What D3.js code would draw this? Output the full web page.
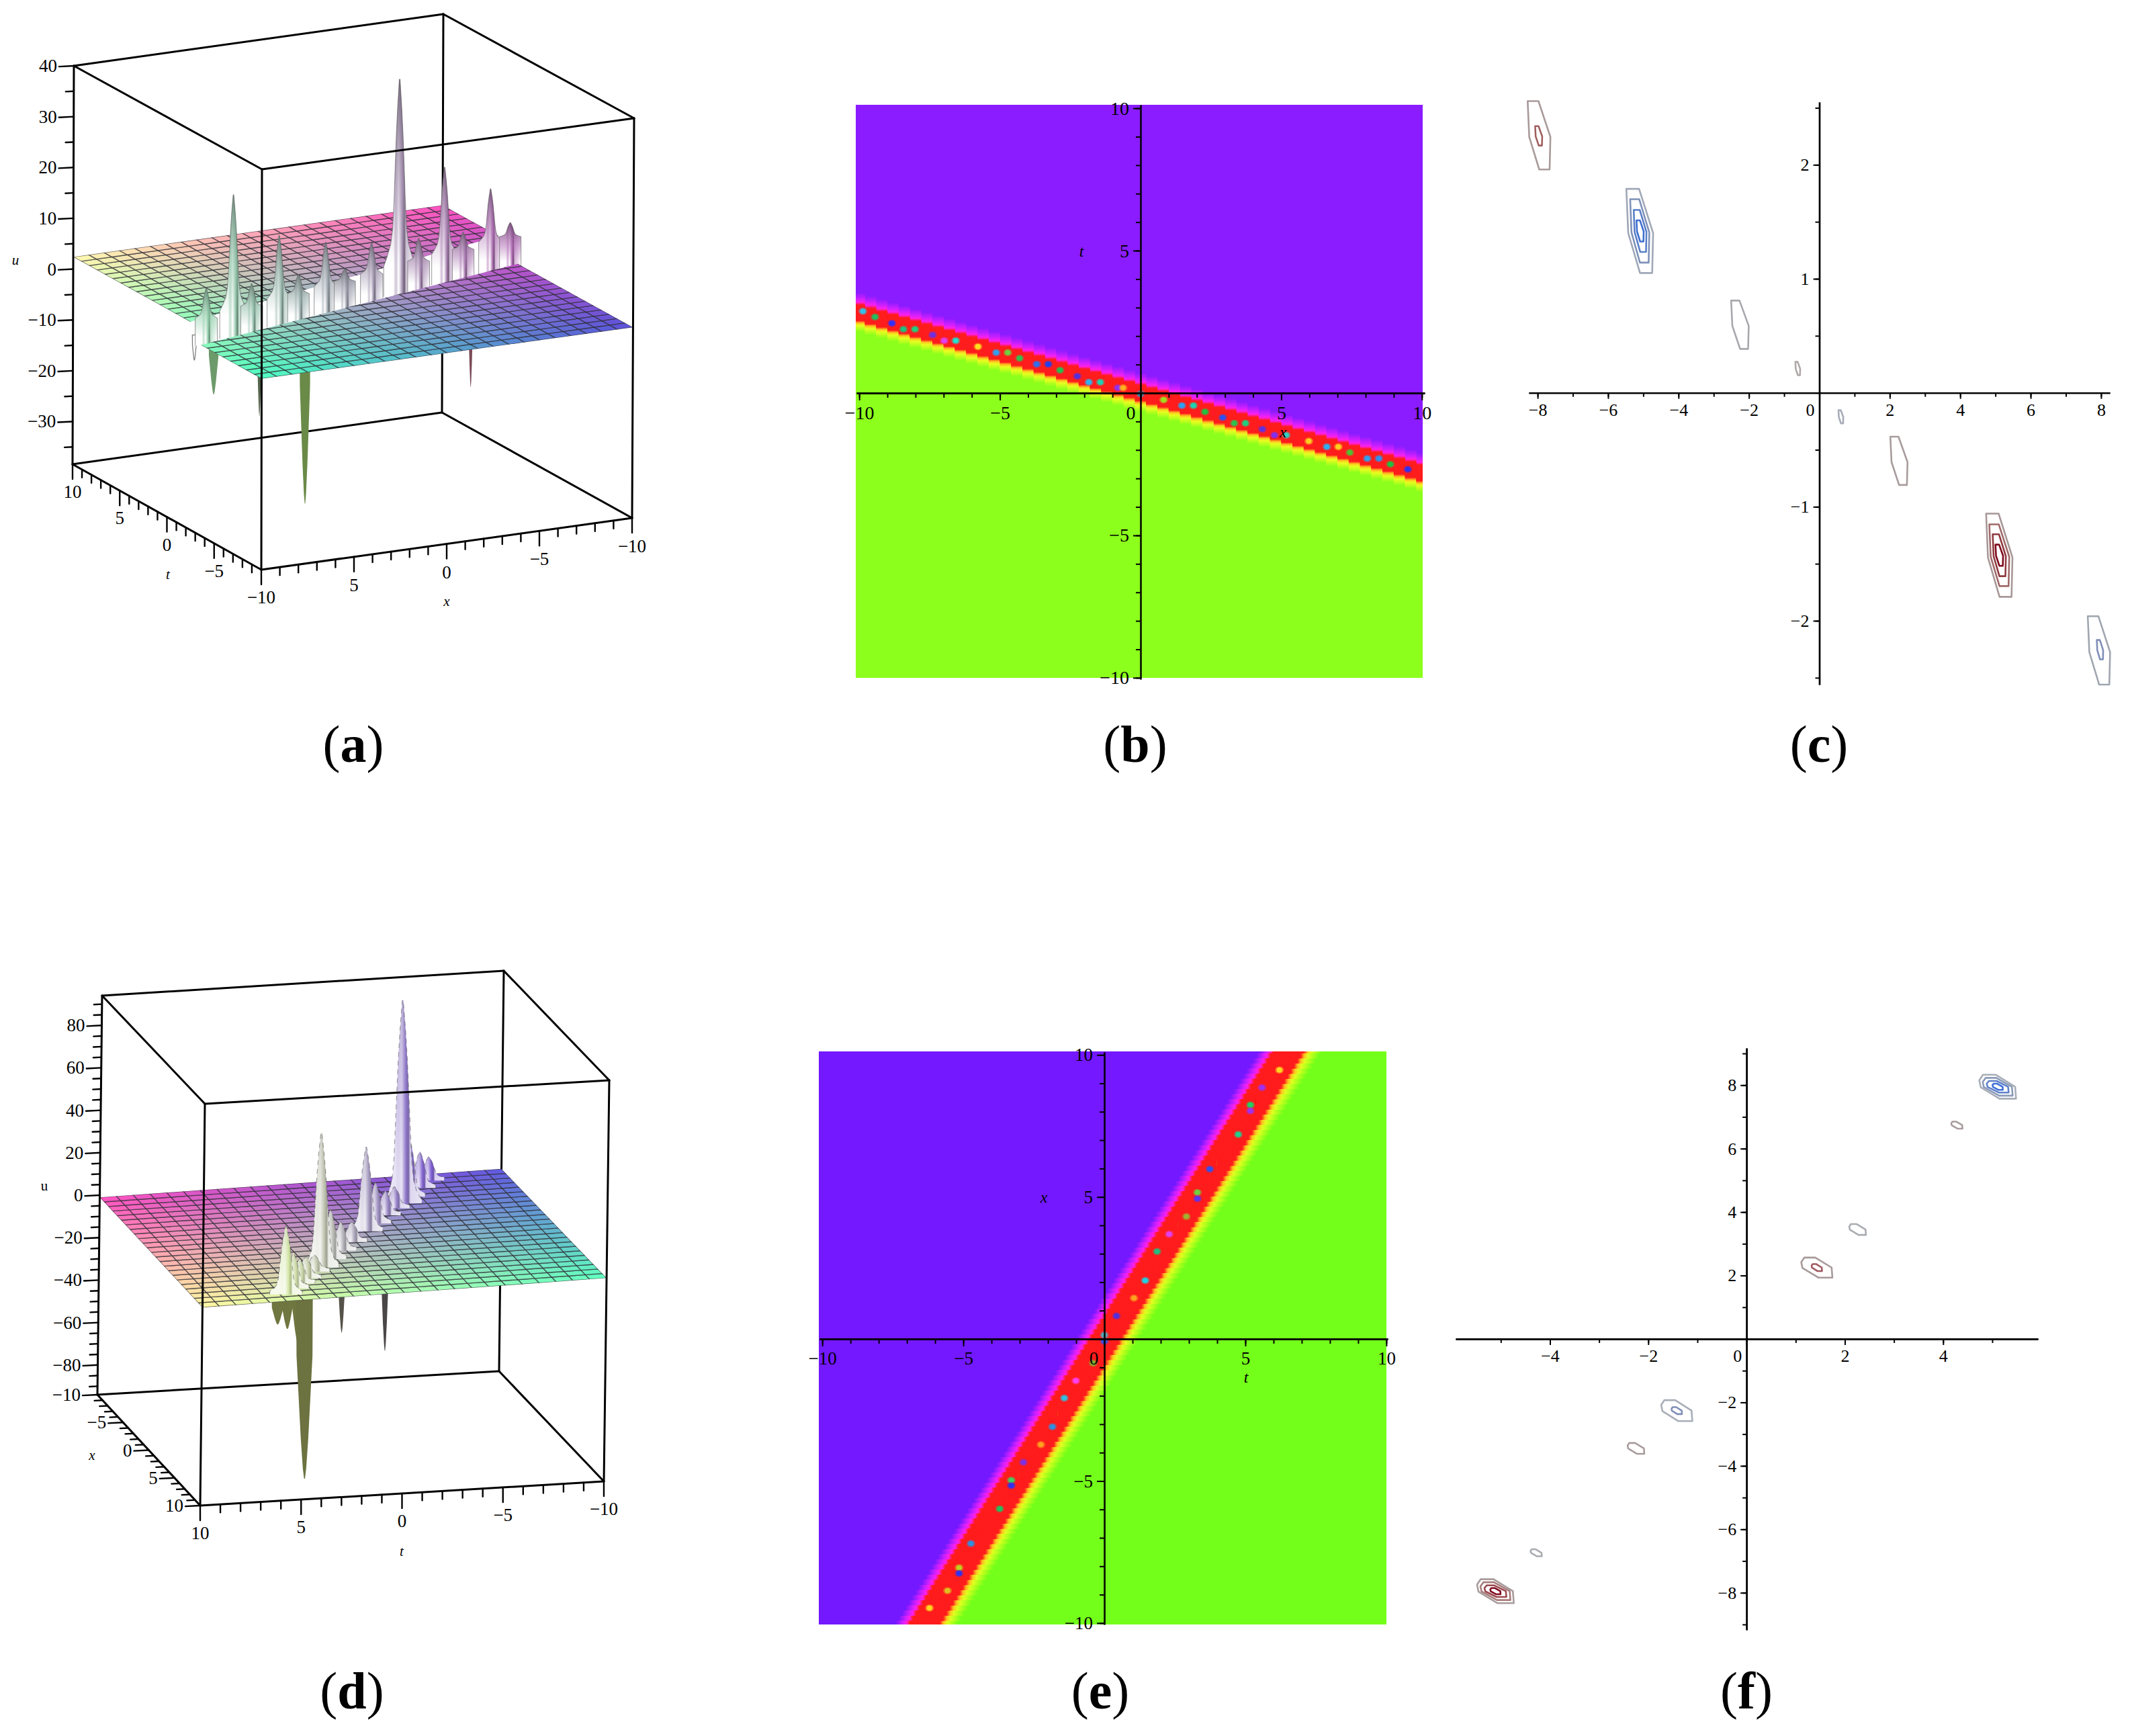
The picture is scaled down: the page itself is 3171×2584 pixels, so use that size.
<!DOCTYPE html>
<html>
<head>
<meta charset="utf-8">
<script src="https://cdn.jsdelivr.net/npm/d3@7"></script>
<style>
    body { margin: 0; background: #fff; }
    text { font-family: "Liberation Serif", serif; fill: #000; }
</style>
</head>
<body>
<svg id="drawing_region"></svg>
<script>
// --- panel (a): u(x,t) surface, peaks along the soliton line
const spikeAx = [9.17, 7.48, 6.33, 4.61, 3.4, 1.7, 0.5, -1.18, -2.9, -4.13, -5.74, -6.92, -8.63, -9.87];
const spikeAt = [-2.48, -2.02, -1.71, -1.24, -0.92, -0.46, -0.14, 0.32, 0.78, 1.12, 1.55, 1.87, 2.33, 2.66];
const spikeAu = [8.6, 25.6, 7.3, 15.4, 6.8, 11.8, 5.7, 9.4, 40.2, 8, 20.7, 7, 14.2, 6.6];
const downAx = [9.9, 8.69, 5.82, 2.95, -7.43];
const downAt = [-2.67, -2.35, -1.57, -0.8, 2.01];
const downAu = [-4.9, -12.6, -19.1, -38.5, -23.8];
const farEdgeAt = [-2.42, 4.1];   // t of the upper sheet's edge at x = 10, x = -10
const nearEdgeAt = [-3.56, 2.1];  // t of the lower sheet's edge at x = 10, x = -10
const levelsA = [2.4, -1];        // u of upper sheet, lower sheet

// --- panel (d)
const spikeDx = [8.49, 7.53, 6.72, 5.9, 4.84, 4.14, 2.85, 1.5, 0.11, -1.6, -2.85, -4.14, -5.27, -6.08, -7.1, -8.5, -9.68];
const spikeDt = [5.52, 4.89, 4.37, 3.84, 3.15, 2.69, 1.85, 0.98, 0.07, -1.04, -1.85, -2.69, -3.43, -3.95, -4.62, -5.53, -6.29];
const spikeDu = [30.4, 15, 9.8, 8.5, 6.3, 61.5, 21.5, 11.9, 7.9, 37.9, 17.5, 9.8, 8.5, 93.7, 26, 15.4, 9.6];
const downDx = [9.4, 8.17, 6.83, 5.75, 1.24, -4.3];
const downDt = [6.11, 5.31, 4.44, 3.74, 0.81, -2.8];
const downDu = [-13, -18.7, -29, -96, -40.8, -65.6];
const levelsD = [-1.3, 1.3, -1, 1]; // u of the sheet at its four corners

// --- panel (b): density plot, dots along the band
const dotsBx = [-9.87, -9.44, -8.84, -8.43, -8.02, -7.39, -6.98, -6.57, -5.78, -5.13, -4.72, -4.3, -3.69, -3.28, -2.86, -2.25, -1.84, -1.43, -0.81, -0.62, 0, 0.82, 1.47, 1.88, 2.29, 2.92, 3.33, 3.73, 4.33, 4.76, 5.18, 5.98, 6.62, 7.03, 7.44, 8.06, 8.47, 8.88, 9.5];
const dotsBt = [2.87, 2.67, 2.45, 2.24, 2.24, 2.04, 1.84, 1.84, 1.63, 1.42, 1.42, 1.22, 1.01, 1.01, 0.8, 0.59, 0.38, 0.38, 0.18, 0.18, -0.03, -0.24, -0.44, -0.44, -0.66, -0.86, -1.06, -1.06, -1.27, -1.48, -1.48, -1.69, -1.89, -1.89, -2.09, -2.3, -2.3, -2.5, -2.68];
const dotsBc = ["#35c0e8", "#20c060", "#3030ff", "#20c080", "#20d080", "#7030e0", "#e040f0", "#20e0d0", "#ffe020", "#30a0f0", "#70d040", "#30c050", "#3070f0", "#2040f0", "#20c050", "#5030e0", "#30b0f0", "#20d0b0", "#9030f0", "#ffb020", "#3090c0", "#a0e020", "#30a0f0", "#20d0b0", "#20c040", "#3050f0", "#30c050", "#20d080", "#6030e0", "#8030f0", "#30d0c0", "#ffd020", "#30b0f0", "#ffd020", "#50c030", "#30a0f0", "#3090f0", "#20c040", "#3030f0"];
const bandB = { centre: -0.05, slope: -0.281 };
const bandBoffsets = [-0.68, -0.46, -0.37, -0.29, 0.29, 0.38, 0.5, 0.72];

// --- panel (e)
const dotsEt = [6.21, 5.59, 5.18, 5.18, 4.75, 3.74, 3.3, 3.3, 2.91, 2.3, 1.87, 1.45, 1.05, 0.43, 0, 0, -0.4, -1.01, -1.42, -1.84, -2.25, -2.87, -3.3, -3.3, -3.71, -4.73, -5.15, -5.15, -5.56, -6.2];
const dotsEx = [9.47, 8.85, 8.24, 8.03, 7.2, 5.98, 5.16, 4.94, 4.31, 3.69, 3.08, 2.06, 1.44, 0.81, 0.14, -0.08, -0.85, -1.47, -2.08, -3.09, -3.72, -4.34, -4.97, -5.16, -5.98, -7.2, -8.05, -8.25, -8.86, -9.47];
const dotsEc = ["#ffd820", "#a030f0", "#20d060", "#a030f0", "#20d090", "#3050f0", "#70d040", "#6030f0", "#a0b030", "#e040f0", "#20c080", "#20d0e0", "#ffa020", "#5030e0", "#50b0c0", "#3050f0", "#80b030", "#ff40f0", "#30c0e0", "#3090e0", "#ffa020", "#8030e0", "#40d060", "#3030f0", "#20c060", "#3090e0", "#c0d020", "#3030f0", "#e0c020", "#ffd820"];
const bandE = { centre: -0.02, slope: 0.64 };
const bandEoffsets = [-1.05, -0.8, -0.66, -0.54, 0.56, 0.68, 0.82, 1.2];

// --- contours (c): centre, half extent, in plot units
const contourCx = [-7.96, -7.97, -5.10, -5.10, -5.09, -5.09, -2.255, -0.612, 0.612, 2.26, 5.11, 5.11, 5.11, 5.11, 7.94, 7.97];
const contourCy = [2.259, 2.254, 1.42, 1.42, 1.42, 1.42, 0.597, 0.213, -0.21, -0.597, -1.425, -1.425, -1.425, -1.425, -2.26, -2.254];
const contourCrx = [0.323, 0.10, 0.38, 0.272, 0.181, 0.102, 0.25, 0.068, 0.068, 0.244, 0.374, 0.283, 0.187, 0.108, 0.317, 0.09];
const contourCry = [0.30, 0.085, 0.369, 0.278, 0.184, 0.093, 0.212, 0.058, 0.058, 0.212, 0.365, 0.271, 0.184, 0.093, 0.30, 0.085];
const contourCcol = ["#a99a9a", "#a06060", "#a0a8b8", "#7f92b8", "#5a7fc8", "#3f6fd0", "#a8a8ac", "#b0a8a8", "#a8acb8", "#a89c9c", "#a89898", "#a06a6a", "#8f3a40", "#800a1e", "#a0a6b0", "#7f8fb8"];
const hexC = [[-1, 1], [-0.05, 1], [1, -0.05], [0.93, -1], [0.02, -1], [-0.86, -0.05]];

// --- contours (f)
const contourFx = [5.11, 5.11, 5.11, 5.11, 4.28, 2.26, 1.43, 1.43, -1.42, -1.42, -2.25, -4.28, -5.11, -5.11, -5.11, -5.11];
const contourFy = [7.95, 7.95, 7.95, 7.95, 6.74, 3.45, 2.25, 2.25, -2.26, -2.26, -3.45, -6.74, -7.95, -7.95, -7.95, -7.95];
const contourFrx = [0.374, 0.305, 0.223, 0.105, 0.114, 0.17, 0.317, 0.106, 0.317, 0.106, 0.17, 0.114, 0.374, 0.305, 0.223, 0.105];
const contourFry = [0.377, 0.28, 0.182, 0.097, 0.11, 0.17, 0.316, 0.11, 0.33, 0.11, 0.17, 0.11, 0.377, 0.28, 0.182, 0.097];
const contourFcol = ["#a8aeb8", "#8a9ab8", "#5f80c8", "#3f6fd8", "#a89c9c", "#a8acb0", "#a89a9a", "#a05a60", "#a8aeb8", "#7f8fb8", "#a89c9c", "#a8acb0", "#a89c9c", "#a87c7c", "#9a4a50", "#800a1e"];
const hexF = [[-1, 0.54], [-0.8, 1], [-0.1, 1], [0.95, 0], [1, -1], [0.1, -1], [-0.92, -0.04]];

const panelNames = ["a", "b", "c", "d", "e", "f"];
const panelNameX = [526, 1690, 2708, 524, 1638, 2600];
const panelNameY = [1134, 1134, 1134, 2543, 2543, 2543];

const FONT = '"Liberation Serif", serif';

const svg = d3.select('#drawing_region').attr('width', 3171).attr('height', 2584);
const defs = svg.append('defs');
svg.append('rect').attr('width', 3171).attr('height', 2584).attr('fill', '#fff');

let uid = 0;

// trilinear map from plot units onto the drawn box
function makeProject(box) {
    const sp = d3.scaleLinear().domain(box.pDomain).range([0, 1]);
    const sq = d3.scaleLinear().domain(box.qDomain).range([0, 1]);
    const su = d3.scaleLinear().domain(box.uDomain).range([0, 1]);
    const plane = (c, a, b) => [0, 1].map(i =>
        (1 - b) * ((1 - a) * c[0][i] + a * c[1][i]) + b * ((1 - a) * c[2][i] + a * c[3][i]));
    return (p, q, u) => {
        const a = sp(p), b = sq(q), h = su(u);
        const lo = plane(box.bottom, a, b), hi = plane(box.top, a, b);
        return [lo[0] + (hi[0] - lo[0]) * h, lo[1] + (hi[1] - lo[1]) * h];
    };
}

function drawSurfacePanel(cfg) {
    const g = svg.append('g');
    const box = cfg.box;
    const project = makeProject(box);
    const pt = cfg.swap ? (x, t, u) => project(t, x, u) : (x, t, u) => project(x, t, u);
    const sp = d3.scaleLinear().domain(box.pDomain).range([0, 1]);
    const sq = d3.scaleLinear().domain(box.qDomain).range([0, 1]);
    const line = d3.line();
    const edge = (g2, a, b, w) => g2.append('path').attr('d', line([a, b]))
        .attr('stroke', '#000').attr('stroke-width', w || 3).attr('fill', 'none').attr('stroke-linecap', 'round');

    const [F0, R0, L0, B0] = box.bottom;
    const [F1, R1, L1, B1] = box.top;

    // back of the box
    edge(g, L1, B1); edge(g, B1, R1); edge(g, B1, B0); edge(g, L0, B0); edge(g, B0, R0);

    const colourAt = (p, q) => {
        const a = sp(p), b = sq(q);
        return d3.interpolateRgb(
            d3.interpolateRgb(cfg.colours[0], cfg.colours[1])(a),
            d3.interpolateRgb(cfg.colours[2], cfg.colours[3])(a))(b);
    };
    const colourXT = cfg.swap ? (x, t) => colourAt(t, x) : (x, t) => colourAt(x, t);

    const gridP = d3.scaleLinear().domain([0, 24]).range(box.pDomain);
    const gridQ = d3.scaleLinear().domain([0, 24]).range(box.qDomain);
    const cells = d3.cross(d3.range(24), d3.range(24));

    function sheet(level, clipPoints) {
        const id = 'clip' + (uid++);
        defs.append('clipPath').attr('id', id).append('path').attr('d', line(clipPoints) + 'Z');
        const s = g.append('g').attr('clip-path', `url(#${id})`);
        const lev = (a, b) => (1 - b) * ((1 - a) * level[0] + a * level[1]) + b * ((1 - a) * level[2] + a * level[3]);
        const at = (i, j) => project(gridP(i), gridQ(j), lev(i / 24, j / 24));
        s.selectAll('path').data(cells).join('path')
            .attr('d', ([i, j]) => line([at(i, j), at(i + 1, j), at(i + 1, j + 1), at(i, j + 1)]) + 'Z')
            .attr('fill', ([i, j]) => colourAt(gridP(i + 0.5), gridQ(j + 0.5)))
            .attr('stroke', '#2c2c34').attr('stroke-opacity', 0.68).attr('stroke-width', 1.4);
    }

    // spikes hanging under the sheet
    const downProfile = [[0, 1], [0.4, 0.95], [0.6, 0.7], [0.8, 0.45], [0.95, 0.2], [1, 0.05]];
    cfg.down.x.forEach((x, i) => {
        const t = cfg.down.t[i];
        const tip = pt(x, t, cfg.down.u[i]);
        const top = pt(x, t, 0);
        const w = cfg.down.width[i];
        const left = downProfile.map(([f, k]) => [tip[0] - w * k, top[1] + (tip[1] - top[1]) * f]);
        const right = downProfile.map(([f, k]) => [tip[0] + w * k, top[1] + (tip[1] - top[1]) * f]).reverse();
        g.append('path').attr('d', line(left.concat(right)) + 'Z')
            .attr('fill', cfg.down.fill[i])
            .attr('stroke', cfg.down.line[i]).attr('stroke-width', 1.2);
    });

    // the sheet(s)
    cfg.sheets(sheet, pt, g, line);

    // rising spikes
    const order = d3.range(cfg.spike.x.length);
    if (cfg.swap) order.reverse();
    const tallest = d3.max(cfg.spike.u);
    order.forEach(i => {
        const x = cfg.spike.x[i], t = cfg.spike.t[i], u = cfg.spike.u[i];
        const peak = pt(x, t, u);
        const rootY = cfg.rootY(x, t, pt);
        const baseY = cfg.baseY(x, t, pt);
        const k = (cfg.widthBase + (1.4 - cfg.widthBase) * u / tallest) * cfg.widthScale;
        const left = cfg.profile.map(([f, w]) => [peak[0] - w * k, rootY + (peak[1] - rootY) * f]);
        const right = cfg.profile.map(([f, w]) => [peak[0] + w * k, rootY + (peak[1] - rootY) * f]).reverse();
        const w0 = cfg.profile[0][1] * k;
        const outline = [[peak[0] - w0, baseY]].concat(left, right, [[peak[0] + w0, baseY]]);

        const base = colourXT(x, t);
        const tint = d3.interpolateRgb(base, '#999')(cfg.tintGrey);
        const dark = d3.color(tint).darker(cfg.tintDark).formatRgb();
        const pale = d3.interpolateRgb(tint, '#fff')(cfg.tintPale);
        const hId = 'sh' + (uid++), vId = 'sv' + (uid++);
        const hg = defs.append('linearGradient').attr('id', hId);
        [[0, '#fff'], [0.3, '#fff'], [0.38, pale], [0.47, '#fff'], [0.58, tint], [0.65, dark], [0.7, pale], [1, '#fff']].forEach(s =>
            hg.append('stop').attr('offset', s[0]).attr('stop-color', s[1] === '#fff' && cfg.wallColour ? d3.interpolateRgb(tint, '#fff')(cfg.wallColour) : s[1]));
        const vg = defs.append('linearGradient').attr('id', vId).attr('x1', 0).attr('x2', 0).attr('y1', 0).attr('y2', 1);
        vg.append('stop').attr('offset', 0).attr('stop-color', dark).attr('stop-opacity', cfg.topShade);
        vg.append('stop').attr('offset', 0.5).attr('stop-color', tint).attr('stop-opacity', cfg.topShade * 0.6);
        vg.append('stop').attr('offset', 0.85).attr('stop-color', tint).attr('stop-opacity', 0);

        const d = line(outline);
        const s = g.append('g');
        s.append('path').attr('d', d + 'Z').attr('fill', `url(#${hId})`);
        s.append('path').attr('d', d + 'Z').attr('fill', `url(#${vId})`);
        s.append('path').attr('d', d).attr('fill', 'none')
            .attr('stroke', '#555').attr('stroke-opacity', 0.55).attr('stroke-width', 1.1)
            .attr('stroke-dasharray', cfg.spikeDash);
    });

    if (cfg.frontSheet) cfg.frontSheet(sheet, pt);

    // front of the box
    edge(g, L1, F1); edge(g, F1, R1); edge(g, F1, F0); edge(g, F0, L0); edge(g, F0, R0);
    edge(g, L1, L0); edge(g, R1, R0);

    // tick marks and labels
    const drawTicks = (values, major, at, dir, labelAt, anchor) => {
        values.forEach(v => {
            const a = at(v);
            const isMajor = major.includes(v);
            const len = isMajor ? 22 : 12;
            edge(g, a, [a[0] + dir[0] * len, a[1] + dir[1] * len], 2.4);
            if (isMajor) {
                g.append('text').attr('x', a[0] + labelAt[0]).attr('y', a[1] + labelAt[1])
                    .attr('text-anchor', anchor).attr('font-size', 27)
                    .text(d3.format('d')(v));
            }
        });
    };
    drawTicks(cfg.uTicks, cfg.uMajor, v => pt(cfg.uAt[0], cfg.uAt[1], v), [-1, 0.05], [-25, 9], 'end');
    cfg.axes.forEach(ax => drawTicks(ax.values, ax.major, ax.at(pt), ax.dir, ax.label, ax.anchor));
    cfg.names.forEach(n => g.append('text').attr('x', n.x).attr('y', n.y).attr('font-size', 21)
        .attr('font-style', n.roman ? 'normal' : 'italic').attr('text-anchor', 'middle').text(n.text));
}

const unitTicks = d3.range(-10, 11);
const fiveTicks = [-10, -5, 0, 5, 10];

// panel (a)
const nearEdgeA = x => nearEdgeAt[0] + (nearEdgeAt[1] - nearEdgeAt[0]) * (10 - x) / 20;
const farEdgeA = x => farEdgeAt[0] + (farEdgeAt[1] - farEdgeAt[0]) * (10 - x) / 20;
drawSurfacePanel({
    box: {
        pDomain: [10, -10], qDomain: [-10, 10], uDomain: [-38.4, 40],
        bottom: [[389, 848], [941, 771], [108, 691], [658, 614]],
        top: [[390, 252], [944, 176], [110, 98], [660, 21]]
    },
    swap: false,
    colours: ["#4dffc0", "#5a50d8", "#fff8b0", "#ff50c0"],
    down: {
        x: downAx, t: downAt, u: downAu,
        width: [3, 7.5, 3.5, 8, 4],
        fill: ["#ffffff", "#6d9a6a", "#55644c", "#6a8a48", "#7a4a58"],
        line: ["#777", "none", "none", "none", "none"]
    },
    spike: { x: spikeAx, t: spikeAt, u: spikeAu },
    profile: [[0, 17], [0.05, 13.5], [0.12, 9.5], [0.2, 7.5], [0.35, 6], [0.5, 5], [0.7, 3.6], [0.85, 2.2], [1, 0.4]],
    widthScale: 1, widthBase: 0.85,
    tintGrey: 0.4, tintDark: 1.3, tintPale: 0.45, topShade: 0.9, spikeDash: null,
    rootY: (x, t, pt) => pt(x, farEdgeA(x), levelsA[0])[1],
    baseY: (x, t, pt) => pt(x, nearEdgeA(x), levelsA[1])[1] + 6,
    sheets: (sheet, pt, g, line) => {
        const far = levelsA[0], near = levelsA[1];
        sheet([far, far, far, far], [pt(10, 10, far), pt(-10, 10, far), pt(-10, farEdgeAt[1], far), pt(10, farEdgeAt[0], far)]);
        // white wall between the two sheets
        g.append('path').attr('fill', '#fff').attr('d', line([
            pt(10, farEdgeAt[0], far), pt(-10, farEdgeAt[1], far),
            pt(-10, nearEdgeAt[1], near), pt(10, nearEdgeAt[0], near)]) + 'Z');
    },
    frontSheet: (sheet, pt) => {
        const near = levelsA[1];
        sheet([near, near, near, near], [pt(10, -10, near), pt(-10, -10, near), pt(-10, nearEdgeAt[1], near), pt(10, nearEdgeAt[0], near)]);
    },
    uAt: [10, 10],
    uTicks: d3.range(-35, 41, 5),
    uMajor: [-30, -20, -10, 0, 10, 20, 30, 40],
    axes: [
        { values: unitTicks, major: fiveTicks, at: pt => t => pt(10, t, -38.4), dir: [0, 1], label: [0, 50], anchor: 'middle' },
        { values: unitTicks.filter(v => v < 10), major: [-10, -5, 0, 5], at: pt => x => pt(x, -10, -38.4), dir: [0, 1], label: [0, 51], anchor: 'middle' }
    ],
    names: [
        { text: 'u', x: 23, y: 394 },
        { text: 't', x: 250, y: 862 },
        { text: 'x', x: 665, y: 902 }
    ]
});

// panel (d)
drawSurfacePanel({
    box: {
        pDomain: [10, -10], qDomain: [10, -10], uDomain: [-94, 94],
        bottom: [[298, 2241], [899, 2205], [145, 2076], [743, 2041]],
        top: [[305, 1643], [907, 1608], [152, 1482], [750, 1445]]
    },
    swap: true,
    colours: ["#fffaa0", "#60ffc0", "#ff50c0", "#6058e0"],
    down: {
        x: downDx, t: downDt, u: downDu,
        width: [9, 9, 9, 12.5, 6, 6.5],
        fill: ["#70763f", "#70763f", "#70763f", "#6c7240", "#55524a", "#4a4648"],
        line: ["none", "none", "none", "none", "none", "none"]
    },
    spike: { x: spikeDx, t: spikeDt, u: spikeDu },
    profile: [[0, 15], [0.04, 11], [0.1, 8.5], [0.2, 7], [0.35, 6], [0.5, 5], [0.7, 3.6], [0.85, 2.2], [1, 0.4]],
    widthScale: 1.35, widthBase: 1.1,
    tintGrey: 0.1, tintDark: 0.6, tintPale: 0.7, topShade: 0.35, spikeDash: '7 6', wallColour: 0.8,
    rootY: (x, t, pt) => pt(x, t, 0)[1],
    baseY: (x, t, pt) => pt(x, t, 0)[1] + 5,
    sheets: (sheet, pt) => {
        sheet(levelsD, [pt(10, 10, levelsD[0]), pt(10, -10, levelsD[1]), pt(-10, -10, levelsD[3]), pt(-10, 10, levelsD[2])]);
    },
    uAt: [-10, 10],
    uTicks: d3.range(-90, 91, 5),
    uMajor: [-80, -60, -40, -20, 0, 20, 40, 60, 80],
    axes: [
        { values: unitTicks, major: fiveTicks, at: pt => x => pt(x, 10, -94), dir: [-1, 0.05], label: [-25, 9], anchor: 'end' },
        { values: unitTicks, major: fiveTicks, at: pt => t => pt(10, t, -94), dir: [0, 1], label: [0, 50], anchor: 'middle' }
    ],
    names: [
        { text: 'u', x: 66, y: 1772, roman: true },
        { text: 'x', x: 137, y: 2173 },
        { text: 't', x: 598, y: 2316 }
    ]
});

// density plots: rect background, stacked band layers, dots, axes
function drawAxes(g, xs, ys, cfg) {
    const style = sel => sel.attr('font-family', FONT).attr('font-size', cfg.font);
    const axisX = g.append('g').attr('transform', `translate(0,${ys(0)})`);
    axisX.call(d3.axisBottom(xs).tickValues(cfg.xMinor).tickFormat('').tickSize(cfg.minorLen).tickSizeOuter(0));
    const axisXm = g.append('g').attr('transform', `translate(0,${ys(0)})`);
    axisXm.call(d3.axisBottom(xs).tickValues(cfg.xMajor).tickFormat(d3.format('d')).tickSize(cfg.majorLen).tickPadding(cfg.padX).tickSizeOuter(0));
    style(axisXm);
    axisXm.selectAll('.tick text').filter(d => d === 0).attr('dx', -cfg.zeroDx);
    const axisY = g.append('g').attr('transform', `translate(${xs(0)},0)`);
    axisY.call(d3.axisLeft(ys).tickValues(cfg.yMinor).tickFormat('').tickSize(cfg.minorLen).tickSizeOuter(0));
    const axisYm = g.append('g').attr('transform', `translate(${xs(0)},0)`);
    axisYm.call(d3.axisLeft(ys).tickValues(cfg.yMajor).tickFormat(d3.format('d')).tickSize(cfg.majorLen).tickPadding(cfg.padY).tickSizeOuter(0));
    style(axisYm);
    g.selectAll('path.domain').attr('stroke-width', cfg.axisW || 2.4);
    g.selectAll('.tick line').attr('stroke-width', 2);
    axisY.selectAll('path.domain').attr('stroke-opacity', cfg.yOpacity || 1);
    axisYm.selectAll('path.domain').attr('stroke-opacity', cfg.yOpacity || 1);
}

function drawDensity(cfg) {
    const g = svg.append('g');
    const xs = d3.scaleLinear().domain(cfg.xDomain).range(cfg.xRange);
    const ys = d3.scaleLinear().domain(cfg.yDomain).range(cfg.yRange);
    const id = 'clip' + (uid++);
    const px0 = cfg.plot[0], py0 = cfg.plot[1], pw = cfg.plot[2], ph = cfg.plot[3];
    defs.append('clipPath').attr('id', id).append('rect').attr('x', px0).attr('y', py0).attr('width', pw).attr('height', ph);
    const inner = g.append('g').attr('clip-path', `url(#${id})`);
    inner.append('rect').attr('x', px0).attr('y', py0).attr('width', pw).attr('height', ph).attr('fill', cfg.lowColour);

    const offColour = d3.scaleLinear().domain(cfg.offsets).range(cfg.offsetColours).clamp(true);
    const samples = d3.range(-11, 11.01, cfg.step);
    const centre = s => cfg.band.centre + cfg.band.slope * s;

    // the half plane on the other side of the band
    const halfArea = cfg.vertical
        ? d3.area().curve(d3.curveStepAfter).y(s => ys(s)).x0(s => xs(centre(s))).x1(px0)
        : d3.area().curve(d3.curveStepAfter).x(s => xs(s)).y0(s => ys(centre(s))).y1(py0);
    inner.append('path').attr('d', halfArea(samples)).attr('fill', cfg.highColour);

    const lo = cfg.offsets[0], hi = cfg.offsets[cfg.offsets.length - 1];
    const layer = o => {
        const path = cfg.vertical
            ? d3.area().curve(d3.curveStepAfter).y(s => ys(s)).x0(s => xs(centre(s) + o)).x1(s => xs(centre(s)))
            : d3.area().curve(d3.curveStepAfter).x(s => xs(s)).y0(s => ys(centre(s) + o)).y1(s => ys(centre(s)));
        inner.append('path').attr('d', path(samples)).attr('fill', offColour(o));
    };
    const stepO = 0.03;
    d3.range(lo, 0, stepO).forEach(layer);
    d3.range(hi, 0, -stepO).forEach(layer);

    cfg.dotX.forEach((v, i) => {
        const cx = xs(v), cy = ys(cfg.dotY[i]);
        inner.append('ellipse').attr('cx', cx).attr('cy', cy).attr('rx', 6.5).attr('ry', 5.5)
            .attr('fill', cfg.dotC[i]).attr('opacity', 0.45);
        inner.append('ellipse').attr('cx', cx).attr('cy', cy).attr('rx', 4.2).attr('ry', 3.8)
            .attr('fill', cfg.dotC[i]);
    });

    drawAxes(g, xs, ys, cfg);
    cfg.names.forEach(n => g.append('text').attr('x', n.x).attr('y', n.y).attr('font-size', 24)
        .attr('font-style', 'italic').attr('text-anchor', 'middle').text(n.text));
}

drawDensity({
    xDomain: [-10.1, 10.1], xRange: [1275, 2121],
    yDomain: [10.12, -10.05], yRange: [156, 1011],
    plot: [1274, 156, 844, 853],
    band: bandB, vertical: false, step: 0.4,
    offsets: bandBoffsets,
    offsetColours: ["#8cff1c", "#e8ff20", "#ffc020", "#ff1c1c", "#ff1c1c", "#ff20e8", "#d020ff", "#8b1cff"],
    lowColour: "#8cff1c", highColour: "#8b1cff",
    dotX: dotsBx, dotY: dotsBt, dotC: dotsBc,
    xMinor: unitTicks, xMajor: fiveTicks, yMinor: unitTicks, yMajor: [-10, -5, 5, 10],
    minorLen: 7, majorLen: 11, padX: 8, padY: 6, font: 28, zeroDx: 15, axisW: 2.6, yOpacity: 0.7,
    names: [{ text: 't', x: 1610, y: 382 }, { text: 'x', x: 1910, y: 651 }]
});

drawDensity({
    xDomain: [-10.1, 10.05], xRange: [1220, 2066],
    yDomain: [10.1, -10.05], yRange: [1566, 2418],
    plot: [1219, 1565, 845, 853],
    band: bandE, vertical: true, step: 0.18,
    offsets: bandEoffsets,
    offsetColours: ["#7318ff", "#d020ff", "#ff20e8", "#ff1c1c", "#ff1c1c", "#ffc020", "#e0ff20", "#74ff1a"],
    lowColour: "#74ff1a", highColour: "#7318ff",
    dotX: dotsEt, dotY: dotsEx, dotC: dotsEc,
    xMinor: unitTicks, xMajor: fiveTicks, yMinor: unitTicks, yMajor: [-10, -5, 5, 10],
    minorLen: 7, majorLen: 11, padX: 8, padY: 6, font: 27, zeroDx: 16, axisW: 2.6, yOpacity: 0.7,
    names: [{ text: 'x', x: 1554, y: 1790 }, { text: 't', x: 1855, y: 2058 }]
});

// contour plots
function drawContours(cfg) {
    const g = svg.append('g');
    const xs = d3.scaleLinear().domain(cfg.xDomain).range(cfg.xRange);
    const ys = d3.scaleLinear().domain(cfg.yDomain).range(cfg.yRange);
    const outline = d3.line().curve(d3.curveLinearClosed);
    cfg.cx.forEach((cx, i) => {
        const pts = cfg.hex.map(([dx, dy]) => [xs(cx + dx * cfg.rx[i]), ys(cfg.cy[i] + dy * cfg.ry[i])]);
        g.append('path').attr('d', outline(pts)).attr('fill', 'none')
            .attr('stroke', cfg.col[i]).attr('stroke-width', 2.6).attr('stroke-linejoin', 'round');
    });
    drawAxes(g, xs, ys, cfg);
}

drawContours({
    xDomain: [-8.25, 8.25], xRange: [2276, 3141],
    yDomain: [2.55, -2.56], yRange: [152, 1019],
    cx: contourCx, cy: contourCy, rx: contourCrx, ry: contourCry, col: contourCcol, hex: hexC,
    xMinor: d3.range(-8, 9), xMajor: [-8, -6, -4, -2, 0, 2, 4, 6, 8],
    yMinor: d3.range(-2.5, 2.51, 0.5), yMajor: [-2, -1, 1, 2],
    minorLen: 6, majorLen: 9, padX: 7, padY: 6, font: 26, zeroDx: 14
});

drawContours({
    xDomain: [-5.92, 5.93], xRange: [2167, 3034],
    yDomain: [9.17, -9.17], yRange: [1560, 2426],
    cx: contourFx, cy: contourFy, rx: contourFrx, ry: contourFry, col: contourFcol, hex: hexF,
    xMinor: d3.range(-5, 6), xMajor: [-4, -2, 0, 2, 4],
    yMinor: d3.range(-9, 10), yMajor: [-8, -6, -4, -2, 2, 4, 6, 8],
    minorLen: 6, majorLen: 9, padX: 7, padY: 6, font: 26, zeroDx: 14
});

// (a) ... (f)
panelNames.forEach((name, i) => {
    const label = svg.append('text').attr('x', panelNameX[i]).attr('y', panelNameY[i])
        .attr('font-size', 78).attr('text-anchor', 'middle');
    label.append('tspan').text('(');
    label.append('tspan').attr('font-weight', 'bold').text(name);
    label.append('tspan').text(')');
});
</script>
</body>
</html>
